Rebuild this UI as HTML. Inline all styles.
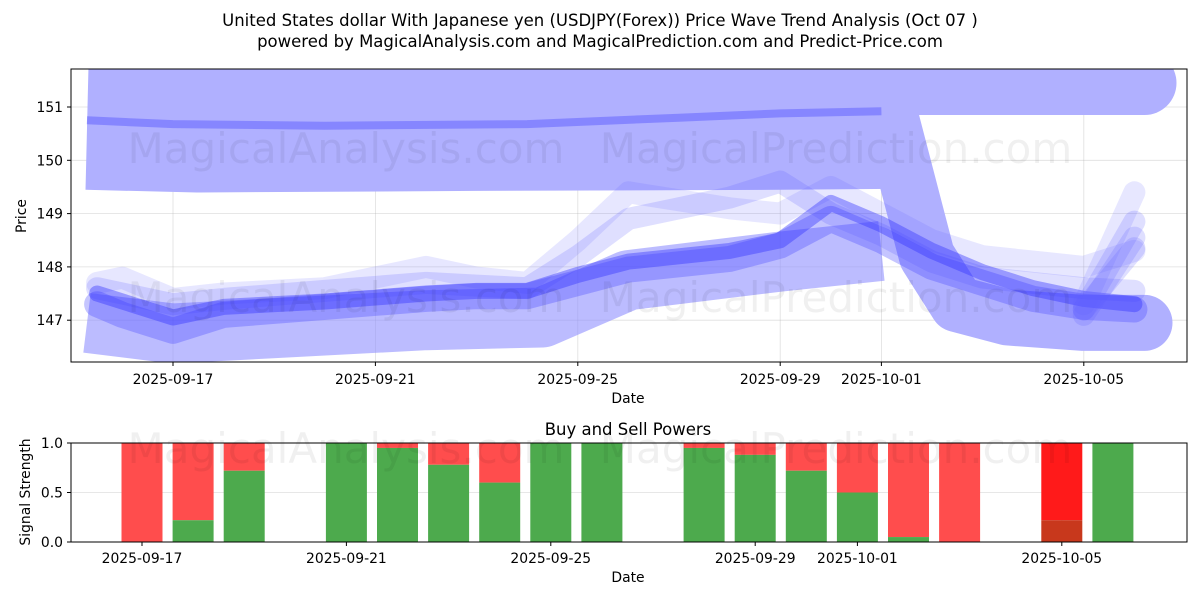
<!DOCTYPE html>
<html><head><meta charset="utf-8"><style>
body{margin:0;background:#fff;}
svg{display:block;font-family:"DejaVu Sans","Liberation Sans",sans-serif;}
</style></head><body>
<svg id="chart" width="1200" height="600" viewBox="0 0 1200 600" xmlns="http://www.w3.org/2000/svg">
<text x="600" y="26" text-anchor="middle" font-size="16.5" fill="#000">United States dollar With Japanese yen (USDJPY(Forex)) Price Wave Trend Analysis (Oct 07 )</text>
<text x="600" y="47" text-anchor="middle" font-size="16.5" fill="#000">powered by MagicalAnalysis.com and MagicalPrediction.com and Predict-Price.com</text>
<defs><clipPath id="topclip"><rect x="71" y="69" width="1116" height="293"/></clipPath>
<clipPath id="botclip"><rect x="71" y="443" width="1116" height="99"/></clipPath></defs>
<g id="topgrid"></g>
<g id="topmarks" clip-path="url(#topclip)"></g>
<g id="topaxis"></g>
<g id="botgrid"></g>
<g id="botmarks" clip-path="url(#botclip)"></g>
<g id="botaxis"></g>
<text x="346" y="163" font-size="42" fill="#000" fill-opacity="0.06" text-anchor="middle">MagicalAnalysis.com</text>
<text x="836" y="163" font-size="42" fill="#000" fill-opacity="0.06" text-anchor="middle">MagicalPrediction.com</text>
<text x="346" y="312" font-size="42" fill="#000" fill-opacity="0.06" text-anchor="middle">MagicalAnalysis.com</text>
<text x="836" y="312" font-size="42" fill="#000" fill-opacity="0.06" text-anchor="middle">MagicalPrediction.com</text>
<text x="346" y="463" font-size="42" fill="#000" fill-opacity="0.06" text-anchor="middle">MagicalAnalysis.com</text>
<text x="836" y="463" font-size="42" fill="#000" fill-opacity="0.06" text-anchor="middle">MagicalPrediction.com</text>
<text x="628" y="403" text-anchor="middle" font-size="13.9">Date</text>
<text x="26" y="216" text-anchor="middle" font-size="13.9" transform="rotate(-90 26 216)">Price</text>
<text x="628" y="435" text-anchor="middle" font-size="16.5">Buy and Sell Powers</text>
<text x="628" y="582" text-anchor="middle" font-size="13.9">Date</text>
<text x="30" y="492" text-anchor="middle" font-size="13.9" transform="rotate(-90 30 492)">Signal Strength</text>
</svg>
<script>
// ---- data (days from 2025-09-15) ----
const priceTicks = [147, 148, 149, 150, 151];
const dateTickDays = [2, 6, 10, 14, 16, 20];
const dateTickLabels = ["2025-09-17","2025-09-21","2025-09-25","2025-09-29","2025-10-01","2025-10-05"];
const bandUpperDays = [0.3, 2.5, 8, 14, 16.2];
const bandUpperVals = [150.6, 150.55, 150.58, 150.6, 150.62];
const bandTopDays = [16.2, 21.2];
const bandTopVals = [151.45, 151.45];
const trendDays = [0.3, 2, 5, 9, 12, 14, 16];
const trendVals = [150.75, 150.68, 150.65, 150.68, 150.8, 150.88, 150.92];
const dropDays = [15.4, 16.2, 16.9, 17.5, 18.5, 20, 21.2];
const dropVals = [150.9, 150.75, 148.2, 147.3, 147.05, 146.95, 146.95];
const lowBandDays = [0.3, 2, 4, 7, 9.3, 11, 14, 16];
const lowBandVals = [146.95, 146.75, 146.85, 147.0, 147.05, 147.75, 148.1, 148.3];
const waveDays = [0.5, 1, 2, 3, 5, 7, 8, 9, 10, 11, 13, 14, 15, 16, 17, 18, 19, 20, 21];
const waveA = [147.5, 147.35, 147.05, 147.25, 147.35, 147.5, 147.55, 147.55, 147.85, 148.1, 148.3, 148.5, 149.2, 148.8, 148.3, 147.9, 147.6, 147.4, 147.3];
const waveB = [147.6, 147.5, 147.3, 147.4, 147.55, 147.7, 147.65, 147.6, 148.2, 148.9, 149.3, 149.6, 149.0, 148.6, 148.1, 147.8, 147.7, 147.6, 147.55];
const waveC = [147.3, 147.1, 146.8, 147.1, 147.25, 147.4, 147.45, 147.45, 147.7, 147.95, 148.15, 148.4, 148.9, 148.5, 148.0, 147.7, 147.4, 147.25, 147.2];
const waveD = [147.7, 147.8, 147.4, 147.5, 147.6, 148.0, 147.8, 147.7, 148.5, 149.4, 149.1, 149.0, 149.5, 149.0, 148.5, 148.2, 148.1, 148.0, 148.3];
const upDays = [20, 21.0];
const upVals1 = [147.3, 149.4];
const upVals2 = [147.2, 148.85];
const upVals3 = [147.1, 148.55];
const upVals4 = [147.2, 148.35];
// buy/sell powers
const barDays = [2, 3, 4, 6, 7, 8, 9, 10, 11, 13, 14, 15, 16, 17, 18, 20, 21];
const buyVals = [0, 0.22, 0.72, 1.0, 0.95, 0.78, 0.6, 1.0, 1.0, 0.95, 0.88, 0.72, 0.5, 0.05, 0, 0.22, 1.0];
const sigTicks = [0, 0.5, 1.0];
const sigTickLabels = ["0.0", "0.5", "1.0"];

const NS = "http://www.w3.org/2000/svg";
const X = d => 71.8 + 50.6 * d;
const Y = p => 107 + (151 - p) * 53.3;
const BX = d => 142 + (d - 2) * 51.1;
const BY = v => 542 - 99 * v;
function mk(tag, attrs, parent) {
  const e = document.createElementNS(NS, tag);
  for (const k in attrs) e.setAttribute(k, attrs[k]);
  parent.appendChild(e);
  return e;
}
const tg = document.getElementById("topgrid"), tm = document.getElementById("topmarks"), ta = document.getElementById("topaxis");
const bg = document.getElementById("botgrid"), bm = document.getElementById("botmarks"), ba = document.getElementById("botaxis");

priceTicks.forEach(p => {
  const l = mk("line", {x1: 71, x2: 1187, y1: Y(p), y2: Y(p), stroke: "#b0b0b0", "stroke-opacity": 0.4, "stroke-width": 0.8}, tg);
  
  
  mk("line", {x1: 67, x2: 71, y1: Y(p), y2: Y(p), stroke: "#000"}, ta);
  const t = mk("text", {x: 63, y: Y(p) + 5, "text-anchor": "end", "font-size": 13.9}, ta);
  t.textContent = p;
  
  
});
dateTickDays.forEach((d, i) => {
  const l = mk("line", {x1: X(d), x2: X(d), y1: 69, y2: 362, stroke: "#b0b0b0", "stroke-opacity": 0.4, "stroke-width": 0.8}, tg);
  
  
  mk("line", {x1: X(d), x2: X(d), y1: 362, y2: 366, stroke: "#000"}, ta);
  const t = mk("text", {x: X(d), y: 384, "text-anchor": "middle", "font-size": 13.9}, ta);
  t.textContent = dateTickLabels[i];
  
  
});
const fr = mk("rect", {x: 71, y: 69, width: 1116, height: 293, fill: "none", stroke: "#000", "stroke-width": 1}, ta);



function line(days, vals, width, color, op, cap, name) {
  const pts = days.map((d, i) => X(d).toFixed(1) + "," + Y(vals[i]).toFixed(1)).join(" ");
  const e = mk("polyline", {points: pts, fill: "none", stroke: color, "stroke-opacity": op, "stroke-width": width, "stroke-linejoin": "round", "stroke-linecap": cap}, tm);
  
  
}
line(bandUpperDays, bandUpperVals, 123, "#b0b0ff", 1, "butt", "wave-band-upper");
line(bandTopDays, bandTopVals, 64, "#b0b0ff", 1, "round", "wave-band-top");
line(dropDays, dropVals, 56, "#b0b0ff", 1, "round", "wave-band-drop");
line(lowBandDays, lowBandVals, 60, "#8f8fff", 0.6, "butt", "wave-band-lower");
line(trendDays, trendVals, 8, "#6a6aff", 0.6, "butt", "trend-line");
line(waveDays, waveD, 22, "#6060ff", 0.15, "round", "wave-d");
line(waveDays, waveB, 22, "#6060ff", 0.2, "round", "wave-b");
line(waveDays, waveC, 26, "#4040ff", 0.3, "round", "wave-c");
line(waveDays, waveA, 16, "#3030ff", 0.4, "round", "wave-a");
line(upDays, upVals1, 22, "#6060ff", 0.15, "round", "wave-rebound-1");
line(upDays, upVals2, 22, "#6060ff", 0.2, "round", "wave-rebound-2");
line(upDays, upVals3, 22, "#6060ff", 0.2, "round", "wave-rebound-3");
line(upDays, upVals4, 22, "#6060ff", 0.2, "round", "wave-rebound-4");

sigTicks.forEach((v, i) => {
  const l = mk("line", {x1: 71, x2: 1187, y1: BY(v), y2: BY(v), stroke: "#b0b0b0", "stroke-opacity": 0.4, "stroke-width": 0.8}, bg);
  
  
  mk("line", {x1: 67, x2: 71, y1: BY(v), y2: BY(v), stroke: "#000"}, ba);
  const t = mk("text", {x: 63, y: BY(v) + 5, "text-anchor": "end", "font-size": 13.9}, ba);
  t.textContent = sigTickLabels[i];
  
  
});
dateTickDays.forEach((d, i) => {
  const l = mk("line", {x1: BX(d), x2: BX(d), y1: 443, y2: 542, stroke: "#b0b0b0", "stroke-opacity": 0.4, "stroke-width": 0.8}, bg);
  
  
  mk("line", {x1: BX(d), x2: BX(d), y1: 542, y2: 546, stroke: "#000"}, ba);
  const t = mk("text", {x: BX(d), y: 563, "text-anchor": "middle", "font-size": 13.9}, ba);
  t.textContent = dateTickLabels[i];
  
  
});
barDays.forEach((d, i) => {
  const v = buyVals[i];
  const special = d === 20;
  const r = mk("rect", {x: BX(d) - 20.5, y: BY(1), width: 41, height: BY(v) - BY(1), fill: special ? "#ff1a1a" : "#ff4d4d"}, bm);
  
  
  const g = mk("rect", {x: BX(d) - 20.5, y: BY(v), width: 41, height: BY(0) - BY(v), fill: special ? "#c8381c" : "#4daa4d"}, bm);
  
  
});
const bf = mk("rect", {x: 71, y: 443, width: 1116, height: 99, fill: "none", stroke: "#000", "stroke-width": 1}, ba);


</script>
</body></html>
